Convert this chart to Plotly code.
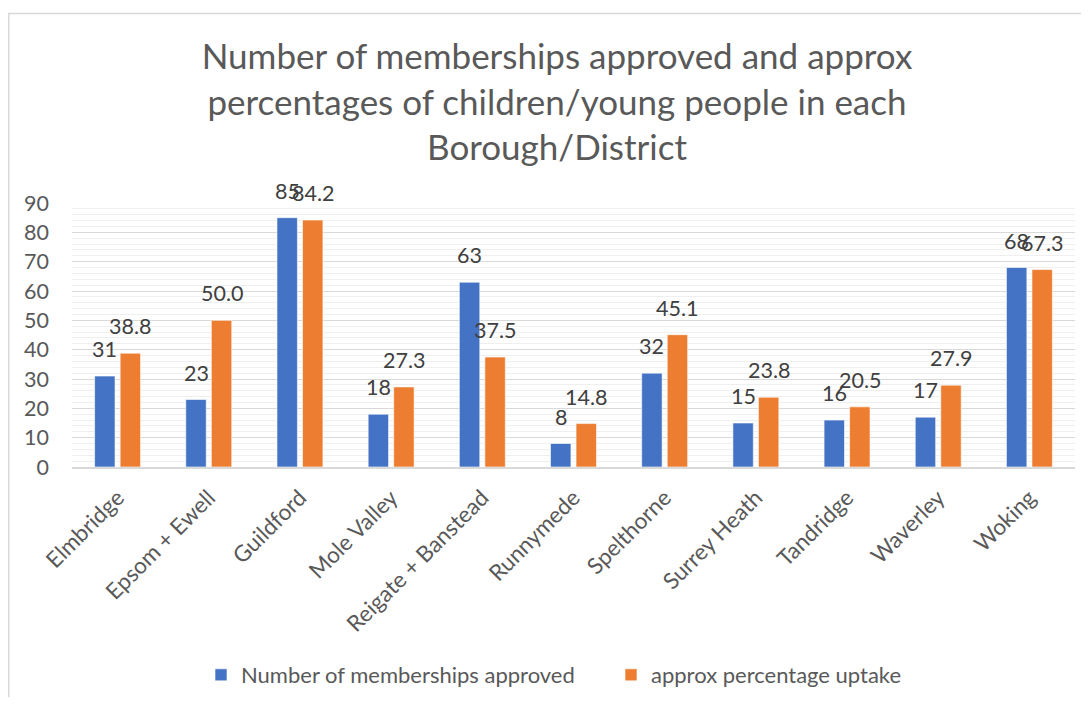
import plotly.graph_objects as go

categories = ["Elmbridge", "Epsom + Ewell", "Guildford", "Mole Valley", "Reigate + Banstead",
              "Runnymede", "Spelthorne", "Surrey Heath", "Tandridge", "Waverley", "Woking"]
memberships = [31, 23, 85, 18, 63, 8, 32, 15, 16, 17, 68]
uptake = [38.8, 50.0, 84.2, 27.3, 37.5, 14.8, 45.1, 23.8, 20.5, 27.9, 67.3]
series_names = ["Number of memberships approved", "approx percentage uptake"]
title_text = ("Number of memberships approved and approx<br>"
              "percentages of children/young people in each<br>Borough/District")

# page is rendered with an 8px body margin -> figure coords = page coords - 8
OFF = 8
W, H = 1089 - 2 * OFF, 705 - 2 * OFF
L, R, T, B = 72 - OFF, 1075 - OFF, 203 - OFF, 467 - OFF  # plot area in figure pixels
FONT = "Lato"
GRAY = "#595959"
LABEL = "#404040"
BARGAP = 0.44

fig = go.Figure()
fig.add_trace(go.Bar(
    x=categories, y=memberships, name=series_names[0],
    marker=dict(color="#4472C4", line=dict(color="#ffffff", width=0.6)),
))
fig.add_trace(go.Bar(
    x=categories, y=uptake, name=series_names[1],
    marker=dict(color="#ED7D31", line=dict(color="#ffffff", width=0.6)),
))

pw, ph = R - L, B - T
def px2x(px): return (px - L) / pw
def py2y(py): return (B - py) / ph

cat_w = pw / len(categories)
half_slot = (1 - BARGAP) * cat_w / 4
annotations = []
for c, v in zip(categories, memberships):
    annotations.append(dict(x=c, y=v, xref="x", yref="y", text=f"{v:d}", showarrow=False,
                            xanchor="center", yanchor="bottom", xshift=-half_slot, yshift=12,
                            font=dict(family=FONT, size=21.5, color=LABEL)))
for c, v in zip(categories, uptake):
    annotations.append(dict(x=c, y=v, xref="x", yref="y", text=f"{v:.1f}", showarrow=False,
                            xanchor="center", yanchor="bottom", xshift=half_slot, yshift=12,
                            font=dict(family=FONT, size=21.5, color=LABEL)))

fig.update_layout(
    width=W, height=H,
    margin=dict(l=L, r=W - R, t=T, b=H - B, pad=0, autoexpand=False),
    paper_bgcolor="white", plot_bgcolor="white",
    barmode="group", bargap=BARGAP, bargroupgap=0.2,
    title=dict(text=title_text, x=(557 - OFF) / W, xanchor="center", y=1 - 61 / H, yanchor="top",
               font=dict(family=FONT, size=35, color=GRAY)),
    font=dict(family=FONT, color=GRAY),
    legend=dict(orientation="h", x=px2x(205 - OFF - 4), xanchor="left", y=py2y(675 - OFF), yanchor="middle",
                font=dict(family=FONT, size=22, color=GRAY), itemwidth=30, traceorder="normal",
                entrywidth=365, entrywidthmode="pixels"),
    xaxis=dict(tickangle=-45, tickfont=dict(family=FONT, size=22.5, color=GRAY), automargin=False,
               showline=True, linecolor="#d9d9d9", linewidth=1.5, ticks="", ticklabelstandoff=7),
    yaxis=dict(range=[0, 90], dtick=10, tickfont=dict(family=FONT, size=21.5, color=GRAY),
               automargin=False,
               showgrid=True, gridcolor="#d9d9d9", gridwidth=1.3, zeroline=False,
               ticklabelstandoff=22,
               minor=dict(dtick=2, showgrid=True, gridcolor="#efefef", gridwidth=1)),
    annotations=annotations,
    shapes=[dict(type="path", xref="paper", yref="paper",
                 path=f"M {px2x(0.75)} {py2y(H + 5)} L {px2x(0.75)} {py2y(5.5)} L {px2x(W + 5)} {py2y(5.5)}",
                 line=dict(color="#d9d9d9", width=1.5))],
)
fig.write_html("out.html")
